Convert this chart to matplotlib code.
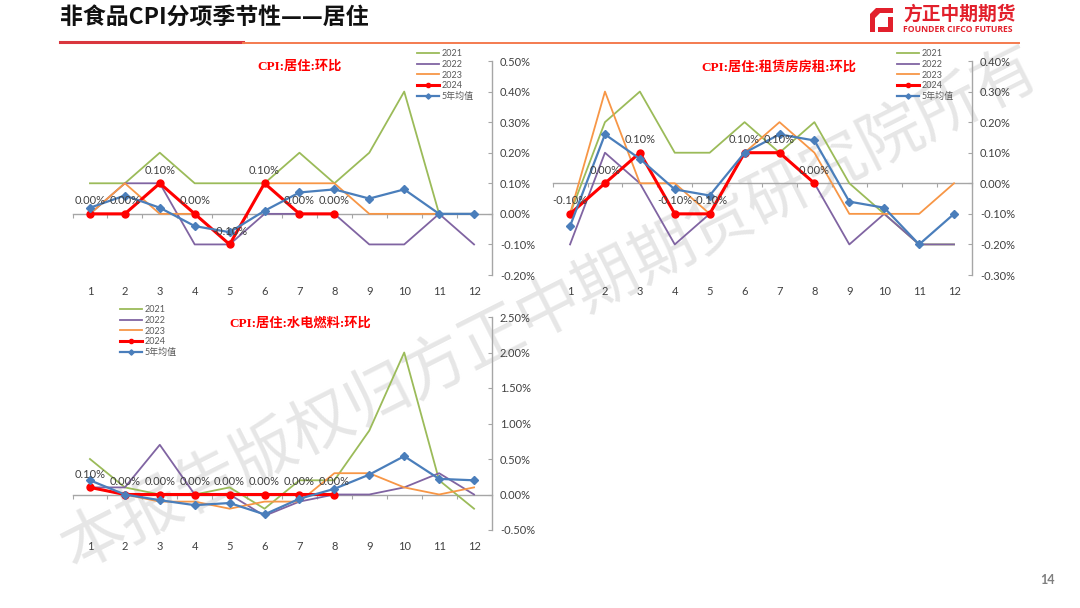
import numpy as np
import matplotlib
matplotlib.use('Agg')
import matplotlib.pyplot as plt
from matplotlib.patches import Polygon
from matplotlib.ticker import FuncFormatter

# ---------------- data ----------------
months = list(range(1, 13))
month_labels = [str(m) for m in months]
series_names = ['2021', '2022', '2023', '2024', '5年均值']

# CPI:居住:环比 (%)
housing_2021 = [0.1, 0.1, 0.2, 0.1, 0.1, 0.1, 0.2, 0.1, 0.2, 0.4, 0.0, 0.0]
housing_2022 = [0.0, 0.1, 0.1, -0.1, -0.1, 0.0, 0.0, 0.0, -0.1, -0.1, 0.0, -0.1]
housing_2023 = [0.0, 0.1, 0.0, 0.0, -0.1, 0.1, 0.1, 0.1, 0.0, 0.0, 0.0, 0.0]
housing_2024 = [0.0, 0.0, 0.1, 0.0, -0.1, 0.1, 0.0, 0.0]
housing_avg = [0.02, 0.06, 0.02, -0.04, -0.06, 0.01, 0.07, 0.08, 0.05, 0.08, 0.0, 0.0]

# CPI:居住:租赁房房租:环比 (%)
rent_2021 = [-0.1, 0.2, 0.3, 0.1, 0.1, 0.2, 0.1, 0.2, 0.0, -0.1, -0.2, -0.2]
rent_2022 = [-0.2, 0.1, 0.0, -0.2, -0.1, 0.1, 0.1, 0.0, -0.2, -0.1, -0.2, -0.2]
rent_2023 = [-0.1, 0.3, 0.0, 0.0, -0.1, 0.1, 0.2, 0.1, -0.1, -0.1, -0.1, 0.0]
rent_2024 = [-0.1, 0.0, 0.1, -0.1, -0.1, 0.1, 0.1, 0.0]
rent_avg = [-0.14, 0.16, 0.08, -0.02, -0.04, 0.10, 0.16, 0.14, -0.06, -0.08, -0.20, -0.10]

# CPI:居住:水电燃料:环比 (%)
util_2021 = [0.5, 0.1, 0.0, 0.0, 0.1, -0.2, 0.2, 0.2, 0.9, 2.0, 0.2, -0.2]
util_2022 = [0.1, 0.1, 0.7, 0.0, 0.0, -0.3, -0.1, 0.0, 0.0, 0.1, 0.3, 0.0]
util_2023 = [0.1, 0.0, -0.1, -0.1, -0.2, -0.1, -0.1, 0.3, 0.3, 0.1, 0.0, 0.1]
util_2024 = [0.1, 0.0, 0.0, 0.0, 0.0, 0.0, 0.0, 0.0]
util_avg = [0.20, 0.0, -0.08, -0.15, -0.12, -0.28, -0.06, 0.08, 0.28, 0.54, 0.22, 0.20]

housing_ticks = [-0.2, -0.1, 0.0, 0.1, 0.2, 0.3, 0.4, 0.5]
rent_ticks = [-0.3, -0.2, -0.1, 0.0, 0.1, 0.2, 0.3, 0.4]
util_ticks = [-0.5, 0.0, 0.5, 1.0, 1.5, 2.0, 2.5]

# ---------------- style ----------------
plt.rcParams['font.family'] = ['Lato', 'Noto Sans CJK SC', 'DejaVu Sans']
W, H = 1080, 608
fig = plt.figure(figsize=(W / 100, H / 100), dpi=100)
fig.patch.set_facecolor('white')

styles = {
    '2021': dict(color='#9BBB59', lw=1.3, zorder=2),
    '2022': dict(color='#8064A2', lw=1.3, zorder=2),
    '2023': dict(color='#F79646', lw=1.3, zorder=2),
    '2024': dict(color='#FF0000', lw=2.2, marker='o', ms=5, zorder=3),
    '5年均值': dict(color='#4A7EBB', lw=1.6, marker='D', ms=4.5, zorder=4),
}
GRAY = '#A6A6A6'
TXT = '#404040'


def fx(x):
    return x / W


def fy(y):
    return 1 - y / H


def make_chart(left, top, right, bottom, ticks, data, title, title_xy, legend_xy):
    ax = fig.add_axes([fx(left), fy(bottom), fx(right - left), (bottom - top) / H])
    ax.set_facecolor('none')
    ax.set_zorder(2)
    ymin, ymax = ticks[0], ticks[-1]
    ax.set_xlim(0.5, 12.5)
    ax.set_ylim(ymin, ymax)
    for s in ['left', 'top', 'bottom']:
        ax.spines[s].set_visible(False)
    ax.spines['right'].set_color(GRAY)
    ax.spines['right'].set_linewidth(1.0)
    ax.yaxis.tick_right()
    ax.set_yticks(ticks)
    ax.yaxis.set_major_formatter(FuncFormatter(lambda v, p: f'{v:.2f}%'))
    ax.tick_params(axis='y', direction='in', length=3, color=GRAY, labelsize=8,
                   labelcolor=TXT, pad=6)
    ax.set_xticks(months)
    ax.set_xticklabels(month_labels)
    ax.tick_params(axis='x', length=0, labelsize=8, labelcolor=TXT, pad=8)

    # zero axis line with category tick marks
    zero_frac = (0 - ymin) / (ymax - ymin)
    sec = ax.secondary_xaxis(zero_frac)
    sec.set_xticks(np.arange(0.5, 13.0, 1.0))
    sec.tick_params(axis='x', length=3, direction='out', color=GRAY, labelbottom=False,
                    labeltop=False)
    for s in sec.spines.values():
        s.set_color(GRAY)
        s.set_linewidth(1.0)

    for name, vals in zip(series_names, data):
        ax.plot(months[:len(vals)], vals, label=name, **styles[name])

    # data labels on 2024
    for m, v in zip(months, data[3]):
        ax.annotate(f'{v:.2f}%', (m, v), xytext=(0, 9.5), textcoords='offset points',
                    ha='center', va='center', fontsize=8, color=TXT, zorder=6)

    fig.text(fx(title_xy[0]), fy(title_xy[1]), title, ha='center', va='center',
             fontsize=9.5, fontweight='bold', color='#FF0000',
             family=['Liberation Serif', 'Noto Sans CJK SC'])

    h, l = ax.get_legend_handles_labels()
    leg = fig.legend(h, l, loc='upper left', bbox_to_anchor=(fx(legend_xy[0]), fy(legend_xy[1])),
                     frameon=False, fontsize=6.5, handlelength=2.4, handletextpad=0.3,
                     labelspacing=0.2, borderpad=0, borderaxespad=0, markerscale=0.6,
                     labelcolor='#595959')
    leg.set_zorder(5)
    return ax


make_chart(72.5, 61, 491.5, 275, housing_ticks,
           [housing_2021, housing_2022, housing_2023, housing_2024, housing_avg],
           'CPI:居住:环比', (300, 67), (417, 49))
make_chart(552.6, 61, 971.5, 275, rent_ticks,
           [rent_2021, rent_2022, rent_2023, rent_2024, rent_avg],
           'CPI:居住:租赁房房租:环比', (779, 67), (897, 49))
make_chart(72.5, 317, 491.5, 530, util_ticks,
           [util_2021, util_2022, util_2023, util_2024, util_avg],
           'CPI:居住:水电燃料:环比', (300, 323), (120, 305))

# ---------------- header / decorations ----------------
fig.text(fx(60), fy(18), '非食品CPI分项季节性——居住', ha='left', va='center',
         fontsize=16.5, fontweight='bold', color='#111111', family=['Noto Sans CJK SC'])
fig.add_artist(plt.Line2D([fx(60), fx(243)], [fy(42.3), fy(42.3)], color='#D9363E', lw=2.2))
fig.add_artist(plt.Line2D([fx(243), fx(1019)], [fy(42.8), fy(42.8)], color='#F47B4F', lw=1.4))

# logo
red = '#E2202C'
p1 = [(876, 8), (893, 8), (893, 13), (880, 13), (875, 18), (875, 32), (870, 32), (870, 14)]
p2 = [(878, 27), (888, 27), (888, 17), (893, 17), (893, 32), (878, 32)]
for pts in (p1, p2):
    fig.add_artist(Polygon([(fx(x), fy(y)) for x, y in pts], closed=True,
                           transform=fig.transFigure, facecolor=red, edgecolor='none'))
fig.text(fx(903), fy(14), '方正中期期货', ha='left', va='center', fontsize=13.5,
         fontweight='bold', color=red, family=['Noto Sans CJK SC'])
fig.text(fx(903), fy(29), 'FOUNDER CIFCO FUTURES', ha='left', va='center', fontsize=6.2,
         fontweight='bold', color=red, family=['Open Sans'])

# page number
fig.text(fx(1047), fy(580), '14', ha='center', va='center', fontsize=9, fontweight='bold',
         color='#7F7F7F')

# watermark
fig.text(fx(550), fy(310), '本报告版权归方正中期期货研究院所有', ha='center', va='center',
         rotation=26.8, rotation_mode='anchor', fontsize=46, color='#DCDCDC', alpha=0.7,
         family=['Noto Sans CJK SC'], fontweight='light', zorder=0)

fig.savefig('out.png', dpi=100, facecolor='white')
